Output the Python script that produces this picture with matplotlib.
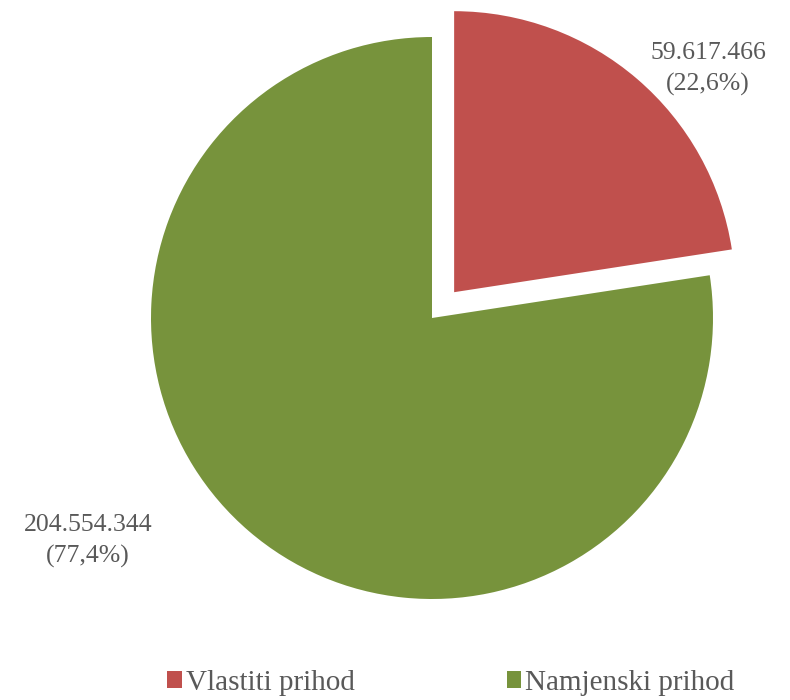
import matplotlib
matplotlib.use("Agg")
import matplotlib.pyplot as plt

categories = ["Vlastiti prihod", "Namjenski prihod"]
values = [59617466, 204554344]
value_labels = ["59.617.466", "204.554.344"]
pct_labels = ["(22,6%)", "(77,4%)"]
colors = ["#C0504D", "#77933C"]

plt.rcParams['font.family'] = ['Liberation Serif', 'DejaVu Serif']

fig = plt.figure(figsize=(7.9, 7.0), dpi=100)
ax = fig.add_axes([0, 0, 1, 1])

wedges, _ = ax.pie(values, colors=colors, startangle=90, counterclock=False,
                   explode=[34, 0], center=(432, 382), radius=281,
                   frame=True, wedgeprops=dict(linewidth=0))
ax.set_xlim(0, 790)
ax.set_ylim(0, 700)
ax.set_aspect('equal')
ax.axis('off')

label_pos = [(708, 631), (88, 159)]
for (x, y), v, p in zip(label_pos, value_labels, pct_labels):
    ax.text(x, y, f"{v}\n{p}", ha='center', va='center', fontsize=18.5,
            color='#595959', linespacing=1.5)

leg = fig.legend(wedges, categories, loc='center left',
                 bbox_to_anchor=(167 / 790, 1 - 683 / 700),
                 ncol=2, frameon=False, fontsize=21, handlelength=0.5,
                 handleheight=0.5, handletextpad=0.15, columnspacing=5.2,
                 borderpad=0, borderaxespad=0, labelcolor='#595959')

fig.savefig("out.png", dpi=100)
